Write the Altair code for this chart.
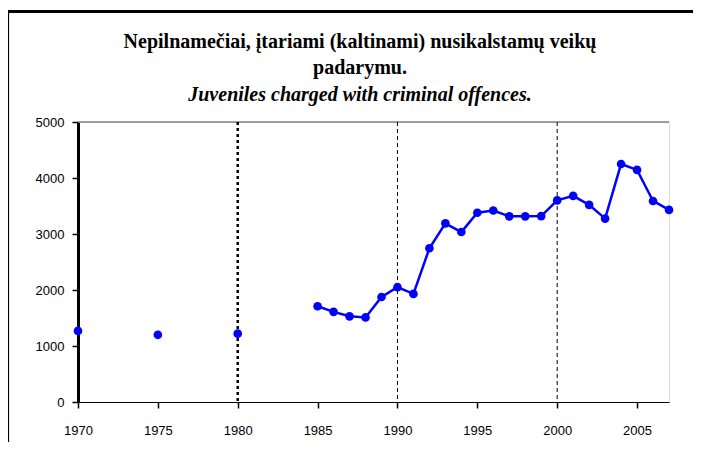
import altair as alt
import pandas as pd

years = [1970, 1975, 1980, 1985, 1986, 1987, 1988, 1989, 1990, 1991, 1992, 1993,
         1994, 1995, 1996, 1997, 1998, 1999, 2000, 2001, 2002, 2003, 2004, 2005,
         2006, 2007]
values = [1270, 1200, 1220, 1710, 1610, 1530, 1510, 1875, 2050, 1930, 2745, 3190,
          3035, 3380, 3420, 3315, 3315, 3320, 3600, 3680, 3520, 3275, 4250, 4145,
          3590, 3430]
x_ticks = [1970, 1975, 1980, 1985, 1990, 1995, 2000, 2005]
y_ticks = [0, 1000, 2000, 3000, 4000, 5000]
thin_dashed_years = [1990, 2000]
bold_dotted_years = [1980]
title_line1 = "Nepilnamečiai, įtariami (kaltinami) nusikalstamų veikų"
title_line2 = "padarymu."
subtitle_line = "Juveniles charged with criminal offences."

df = pd.DataFrame({"year": years, "value": values})
line_df = df[df["year"] >= 1985]

W, H = 591, 280

xs = alt.Scale(domain=[1970, 2007], nice=False, zero=False)
ys = alt.Scale(domain=[0, 5000], nice=False)

x_axis = alt.Axis(values=x_ticks, format="d", title=None, grid=False,
                  domainColor="black", domainWidth=1, tickColor="black",
                  tickSize=6, tickWidth=1.5, labelFont="Liberation Sans",
                  labelFontSize=13, labelColor="black", labelPadding=16,
                  labelFlush=False)
y_axis = alt.Axis(values=y_ticks, format="d", title=None, grid=False,
                  domainColor="black", domainWidth=3, tickColor="black",
                  tickSize=6, tickWidth=1.5, labelFont="Liberation Sans",
                  labelFontSize=13, labelColor="black", labelPadding=8)

base = alt.Chart(df)

points = base.mark_point(filled=True, shape="circle", size=75, color="#0000FF",
                         opacity=1).encode(
    x=alt.X("year:Q", scale=xs, axis=x_axis),
    y=alt.Y("value:Q", scale=ys, axis=y_axis),
)

line = alt.Chart(line_df).mark_line(color="#0000FF", strokeWidth=2.5).encode(
    x=alt.X("year:Q", scale=xs),
    y=alt.Y("value:Q", scale=ys),
)

thin_rules = alt.Chart(pd.DataFrame({"year": thin_dashed_years})).mark_rule(
    color="black", strokeWidth=1, strokeDash=[4, 3]).encode(
    x=alt.X("year:Q", scale=xs), y=alt.value(0), y2=alt.value(H))

bold_rules = alt.Chart(pd.DataFrame({"year": bold_dotted_years})).mark_rule(
    color="black", strokeWidth=2.5, strokeDash=[3, 3]).encode(
    x=alt.X("year:Q", scale=xs), y=alt.value(0), y2=alt.value(H))

top_rule = alt.Chart(pd.DataFrame({"v": [5000]})).mark_rule(
    color="#808080", strokeWidth=1.5).encode(
    y=alt.Y("v:Q", scale=ys), x=alt.value(0), x2=alt.value(W))

frame_top = alt.Chart(pd.DataFrame({"k": [0]})).mark_rule(
    color="black", strokeWidth=3, clip=False).encode(
    x=alt.value(-70), x2=alt.value(630), y=alt.value(-110.5))
frame_left = alt.Chart(pd.DataFrame({"k": [0]})).mark_rule(
    color="black", strokeWidth=1.2, clip=False).encode(
    x=alt.value(-69.5), y=alt.value(-112), y2=alt.value(330))


def title_layer(txt, ypos, style="normal"):
    return alt.Chart(pd.DataFrame({"t": [txt]})).mark_text(
        font="Liberation Serif", fontSize=20, fontWeight="bold",
        fontStyle=style, color="black", align="center", baseline="middle",
        clip=False).encode(text="t:N", x=alt.value(282), y=alt.value(ypos))


t1 = title_layer(title_line1, -80)
t2 = title_layer(title_line2, -54)
t3 = title_layer(subtitle_line, -27, "italic")

chart = alt.layer(
    frame_top, frame_left, top_rule, bold_rules, thin_rules, line, points,
    t1, t2, t3
).properties(
    width=W, height=H,
    autosize=alt.AutoSizeParams(type="none"),
    padding={"left": 70, "top": 114, "right": 24, "bottom": 40},
).configure_view(stroke=None).configure(background="white")

chart.save("out.html", embed_options={"renderer": "svg", "actions": False})
